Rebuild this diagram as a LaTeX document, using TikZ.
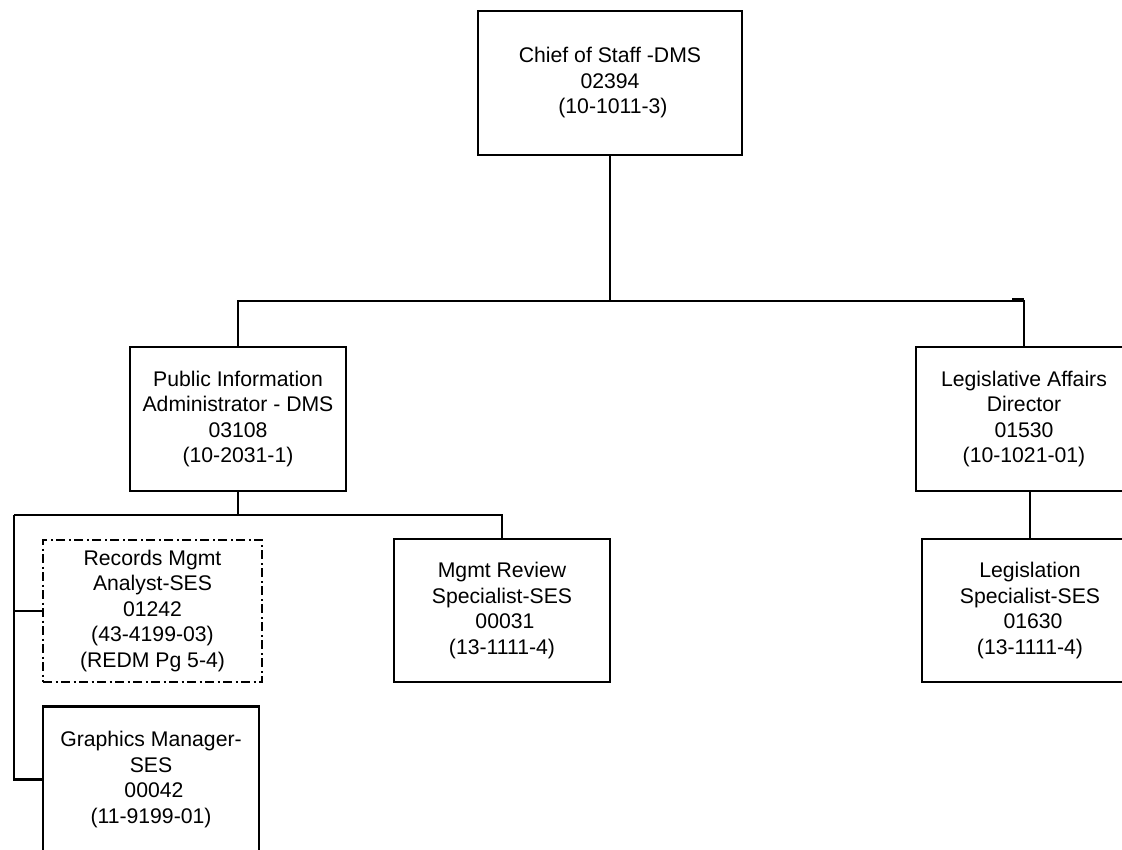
\documentclass[tikz,border=0pt]{standalone}
\usepackage{fontspec}
\setmainfont{Liberation Sans}
\begin{document}
\begin{tikzpicture}[x=1pt,y=-1pt,
  line width=2.4pt,
  post/.style={draw, rectangle, inner sep=2pt, align=center,
    font=\fontsize{21.2}{25.5}\selectfont},
  vacant/.style={post, dash pattern=on 9pt off 3.5pt on 2pt off 3.5pt},
  link/.style={draw, line width=2.3pt}]
\useasboundingbox (0,0) rectangle (1122,849);
\clip (0,0) rectangle (1122,849);

% positions
\node[post, minimum width=264, minimum height=144] (chief) at (610,83)
  {Chief of Staff -DMS\\02394\\\hspace*{0.28em}(10-1011-3)};
\node[post, minimum width=216, minimum height=144] (pia) at (238,419)
  {Public Information\\Administrator - DMS\\03108\\(10-2031-1)};
\node[post, minimum width=216, minimum height=144] (lad) at (1024,419)
  {Legislative Affairs\\Director\\01530\\(10-1021-01)};
\node[vacant, minimum width=219, minimum height=142] (rec) at (152.5,611)
  {Records Mgmt\\Analyst-SES\\01242\\(43-4199-03)\\(REDM Pg 5-4)};
\node[post, minimum width=216, minimum height=143] (mgmt) at (502,610.5)
  {Mgmt Review\\Specialist-SES\\\hspace*{0.28em}00031\\(13-1111-4)};
\node[post, minimum width=216, minimum height=146] (gfx) at (151,779.5)
  {Graphics Manager-\\SES\\\hspace*{0.28em}00042\\(11-9199-01)};
\node[post, minimum width=216, minimum height=143] (leg) at (1030,610.5)
  {Legislation\\Specialist-SES\\\hspace*{0.28em}01630\\(13-1111-4)};

% top-level reporting lines
\coordinate (bus) at (610,301);
\draw[link] (chief.south) -- (bus);
\draw[link] (pia.north) |- (bus) -| (lad.north);
\coordinate (tick) at (1012,299);
\draw[line width=3pt] (tick) -- (tick -| lad.north);

% Public Information Administrator staff
\coordinate (lbus) at (14,515);
\draw[link] (pia.south) -- (pia.south |- lbus);
\draw[link] (lbus) -| (mgmt.north);
\draw[link] (lbus) |- (gfx.west);
\draw[link] (lbus |- rec.west) -- (rec.west);

% Legislative Affairs staff
\draw[link] (leg.north) -- (leg.north |- lad.south);
\end{tikzpicture}
\end{document}
